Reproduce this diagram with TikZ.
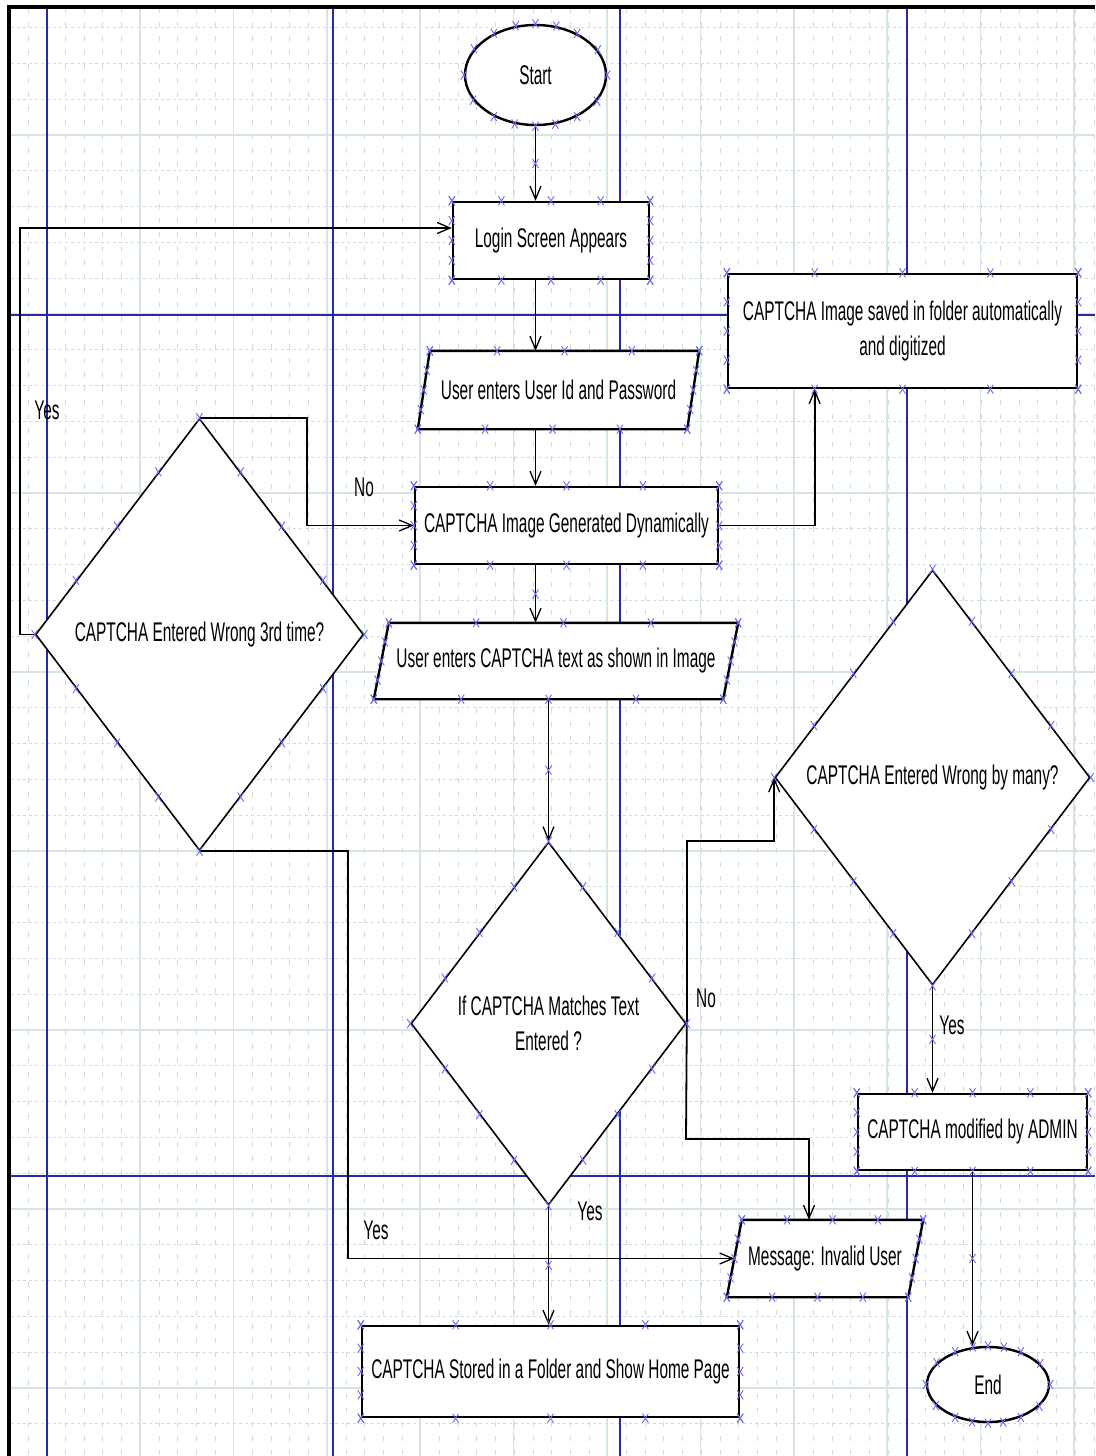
\documentclass[tikz,border=0pt]{standalone}
\usepackage{fontspec}
\setmainfont{Liberation Sans}[FakeStretch=0.57]
\usetikzlibrary{shapes.geometric,arrows.meta,calc,backgrounds}

\definecolor{lanecol}{RGB}{40,40,170}
\definecolor{gridline}{RGB}{214,228,228}
\definecolor{griddash}{RGB}{206,220,220}
\definecolor{markcol}{RGB}{105,105,240}

\tikzset{
  xm/.pic={\draw[markcol, line width=0.9pt] (-3,-4.5) -- (3,4.5) (-3,4.5) -- (3,-4.5);}
}

\begin{document}
\begin{tikzpicture}[x=1pt, y=-1pt, font=\fontsize{27}{35}\selectfont,
  box/.style={draw, rectangle, fill=white, line width=2.4pt, inner sep=0pt, align=center},
  para/.style={rectangle, inner sep=0pt, align=center},
  decision/.style={draw, diamond, fill=white, line width=1.6pt, inner sep=0pt, align=center},
  term/.style={draw, ellipse, fill=white, line width=2.4pt, inner sep=0pt},
  outline/.style={draw, fill=white, line width=2.4pt},
  arr/.style={line width=1.8pt, -{Straight Barb[length=13pt, width=11pt, line width=1.3pt]}},
  lbl/.style={inner sep=0pt}]
\useasboundingbox (0,0) rectangle (1095,1456);

% sheet, grid and lanes
\begin{scope}[on background layer]
\fill[white] (0,0) rectangle (1095,1456);
\foreach \gx in {9.3,28,...,1095}
  \draw[griddash, line width=0.8pt, dash pattern=on 5pt off 9pt] (\gx,8) -- (\gx,1456);
\foreach \gy in {27.6,63.4,...,1456}
  \draw[griddash, line width=0.8pt, dash pattern=on 3pt off 3pt] (11,\gy) -- (1095,\gy);
\foreach \gx in {140,233.4,...,1095}
  \draw[gridline, line width=1.6pt] (\gx,8) -- (\gx,1456);
\foreach \gy in {135,314,...,1456}
  \draw[gridline, line width=1.6pt] (11,\gy) -- (1095,\gy);
\foreach \lx in {47,333,620,907}
  \draw[lanecol, line width=1.4pt] (\lx,8) -- (\lx,1456);
\foreach \ly in {315,1176}
  \draw[lanecol, line width=1.4pt] (11,\ly) -- (1095,\ly);
\draw[line width=4pt] (9.3,1456) -- (9.3,6.5) -- (1095,6.5);
\end{scope}

% steps
\node[term, minimum width=141, minimum height=100] (start) at (535.5,75) {Start};
\node[box, minimum width=196, minimum height=77] (login) at (551,240.5) {Login Screen Appears};
\node[para, minimum width=281, minimum height=78] (uid) at (558.5,390) {User enters User Id and Password};
\node[box, minimum width=303, minimum height=77] (gen) at (566.5,525.5) {CAPTCHA Image Generated Dynamically};
\node[para, minimum width=364, minimum height=76] (txt) at (556,661) {User enters CAPTCHA text as shown in Image};
\node[box, minimum width=349, minimum height=114] (saved) at (902.5,331) {CAPTCHA Image saved in folder automatically\\and digitized};
\node[decision, minimum width=328, minimum height=432] (wrong3) at (199.5,634.5) {CAPTCHA Entered Wrong 3rd time?};
\node[decision, minimum width=275, minimum height=363] (match) at (548.5,1023.5) {If CAPTCHA Matches Text\\Entered ?};
\node[decision, minimum width=315, minimum height=415] (many) at (932.5,777.5) {CAPTCHA Entered Wrong by many?};
\node[box, minimum width=229, minimum height=76] (admin) at (972.5,1132) {CAPTCHA modified by ADMIN};
\node[para, minimum width=196, minimum height=77] (msg) at (825,1258.5) {Message: Invalid User};
\node[box, minimum width=377, minimum height=91] (stored) at (550.5,1371.5) {CAPTCHA Stored in a Folder and Show Home Page};
\node[term, minimum width=122, minimum height=75] (finish) at (988,1384.5) {End};

% input/output boxes
\begin{scope}[on background layer]
\foreach \p/\s in {uid/12,txt/15,msg/15}
  \draw[outline] ([xshift=\s]\p.north west) -- (\p.north east) -- ([xshift=-\s]\p.south east) -- (\p.south west) -- cycle;
\end{scope}

% branch labels
\node[lbl] (yesloop) at (47,410) {Yes};
\node[lbl] (nogen) at (364,487) {No};
\node[lbl] (nomatch) at (706,998) {No};
\node[lbl] (yesadmin) at (952,1025) {Yes};
\node[lbl] (yesmsg) at (376,1230) {Yes};
\node[lbl] (yesstore) at (590,1211) {Yes};

\coordinate (loopc) at (20,228);
\coordinate (nobend) at (307,525.5);
\coordinate (yesbend) at (348,1258.5);
\coordinate (downbend) at (686,1139);

% flow
\draw[arr] (start.south) -- (start.south |- login.north);
\draw[arr] (start.south |- login.south) -- (start.south |- uid.north);
\draw[arr] (start.south |- uid.south) -- (start.south |- gen.north);
\draw[arr] (start.south |- gen.south) -- (start.south |- txt.north);
\draw[arr] (gen.east) -| ($(saved.south west)!0.25!(saved.south east)$);
\draw[arr] (match.north |- txt.south) -- (match.north);
\draw[arr] (match.east) -- (match.east |- match.north) -| (many.west);
\draw[arr] (match.east) -- (downbend) -| ([xshift=-16]msg.north);
\draw[arr] (many.south) -- (many.south |- admin.north);
\draw[arr] (admin.south) -- (admin.south |- finish.north);
\draw[arr] (match.south) -- (match.south |- stored.north);
\draw[arr] (wrong3.west) -| (loopc) -- (loopc -| login.west);
\draw[arr] (wrong3.north) -| (nobend) -- (gen.west);
\draw[arr] (wrong3.south) -| (yesbend) -- ([xshift=7.5]msg.west);

% connection points
\foreach \b in {login,gen,saved,admin,stored}
  \foreach \t in {0,0.25,0.5,0.75,1} {
    \pic at ($(\b.north west)!\t!(\b.north east)$) {xm};
    \pic at ($(\b.south west)!\t!(\b.south east)$) {xm};
    \pic at ($(\b.north west)!\t!(\b.south west)$) {xm};
    \pic at ($(\b.north east)!\t!(\b.south east)$) {xm};
  }
\foreach \d in {wrong3,match,many}
  \foreach \t in {0,0.25,0.5,0.75} {
    \pic at ($(\d.north)!\t!(\d.east)$) {xm};
    \pic at ($(\d.east)!\t!(\d.south)$) {xm};
    \pic at ($(\d.south)!\t!(\d.west)$) {xm};
    \pic at ($(\d.west)!\t!(\d.north)$) {xm};
  }
\foreach \p/\s in {uid/12,txt/15,msg/15}
  \foreach \t in {0,0.25,0.5,0.75,1} {
    \pic at ($([xshift=\s]\p.north west)!\t!(\p.north east)$) {xm};
    \pic at ($(\p.south west)!\t!([xshift=-\s]\p.south east)$) {xm};
    \pic at ($([xshift=\s]\p.north west)!\t!(\p.south west)$) {xm};
    \pic at ($(\p.north east)!\t!([xshift=-\s]\p.south east)$) {xm};
  }
\foreach \e in {start,finish}
  \foreach \a in {0,22,45,67,90,112,135,157,180,202,225,247,270,292,315,337}
    \pic at (\e.\a) {xm};
\pic at ($(start.south)!0.5!(start.south |- login.north)$) {xm};
\pic at ($(start.south |- gen.south)!0.5!(start.south |- txt.north)$) {xm};
\pic at ($(match.north |- txt.south)!0.5!(match.north)$) {xm};
\pic at ($(many.south)!0.5!(many.south |- admin.north)$) {xm};
\pic at ($(admin.south)!0.5!(admin.south |- finish.north)$) {xm};
\pic at ($(match.south)!0.5!(match.south |- stored.north)$) {xm};
\end{tikzpicture}
\end{document}
